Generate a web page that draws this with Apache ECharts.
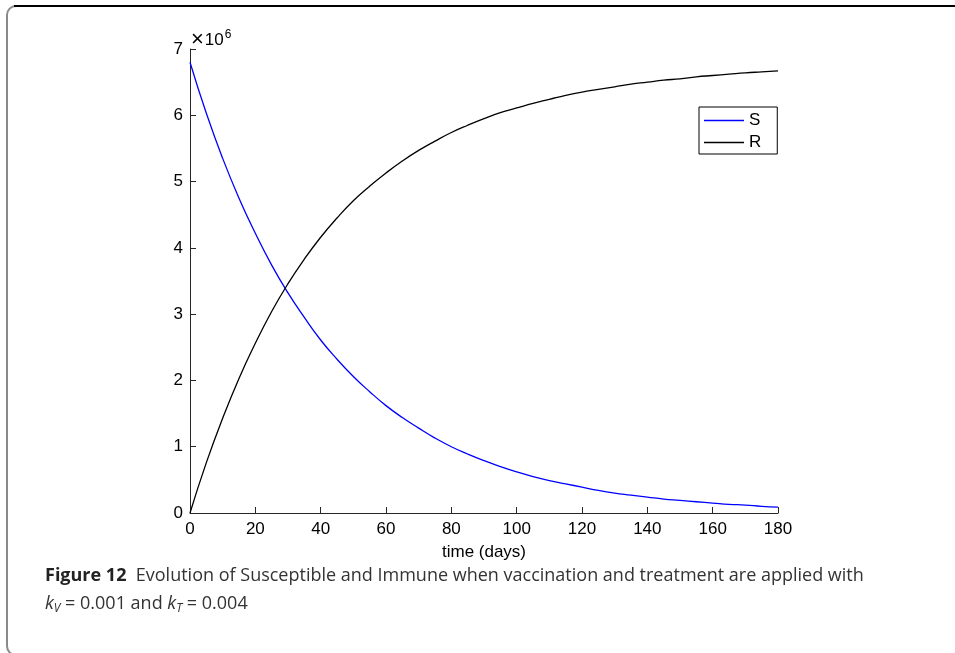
<!DOCTYPE html>
<html><head><meta charset="utf-8">
<script src="https://cdn.jsdelivr.net/npm/echarts@6/dist/echarts.min.js"></script>
<style>html,body{margin:0;padding:0;background:#fff}#c{width:955px;height:653px}</style>
</head><body><div id="c"></div>
<script>
const days = [0,5,10,15,20,25,30,35,40,45,50,55,60,65,70,75,80,85,90,95,100,105,110,115,120,125,130,135,140,145,150,155,160,165,170,175,180];
// values in units of 10^6
const S = [6.80,6.03,5.35,4.75,4.22,3.74,3.32,2.95,2.61,2.32,2.06,1.83,1.62,1.44,1.28,1.13,1.00,0.89,0.79,0.70,0.62,0.55,0.49,0.44,0.39,0.34,0.30,0.27,0.24,0.21,0.19,0.17,0.15,0.13,0.12,0.10,0.09];
const R = [0.00,0.76,1.43,2.03,2.56,3.04,3.46,3.83,4.16,4.45,4.71,4.93,5.13,5.31,5.47,5.61,5.74,5.85,5.95,6.04,6.11,6.18,6.24,6.30,6.35,6.39,6.43,6.47,6.50,6.53,6.55,6.58,6.60,6.62,6.64,6.655,6.67];
const xTicks = [0,20,40,60,80,100,120,140,160,180];
const yTicks = [0,1,2,3,4,5,6,7];
const seriesNames = ['S','R'];

const chart = echarts.init(document.getElementById('c'));
const axisCol = '#262626';
const fontF = '"Liberation Sans", Arial, sans-serif';
const fs = 17;
chart.setOption({
  animation: false,
  grid: {left: 190, right: 177, top: 49, bottom: 140},
  xAxis: {
    type: 'value', min: xTicks[0], max: xTicks[xTicks.length-1], interval: 20,
    name: 'time (days)', nameLocation: 'middle', nameGap: 31,
    nameTextStyle: {color: '#000', fontSize: fs, fontFamily: fontF},
    axisLine: {lineStyle: {color: axisCol, width: 1}},
    axisTick: {inside: true, length: 6, lineStyle: {color: axisCol}},
    axisLabel: {color: '#000', fontSize: fs, fontFamily: fontF, margin: 8},
    splitLine: {show: false}
  },
  yAxis: {
    type: 'value', min: yTicks[0], max: yTicks[yTicks.length-1], interval: 1,
    axisLine: {show: true, lineStyle: {color: axisCol, width: 1}},
    axisTick: {show: true, inside: true, length: 6, lineStyle: {color: axisCol}},
    axisLabel: {color: '#000', fontSize: fs, fontFamily: fontF, margin: 7},
    splitLine: {show: false}
  },
  legend: {
    orient: 'vertical', left: 699, top: 107,
    data: seriesNames.map(n => ({name: n, icon: 'rect'})),
    itemWidth: 40, itemHeight: 1.3, itemGap: 5,
    borderColor: '#000', borderWidth: 1, borderRadius: 0,
    padding: [5, 16, 3, 5],
    textStyle: {color: '#000', fontSize: fs, fontFamily: fontF}
  },
  series: [
    {name: seriesNames[0], type: 'line', data: days.map((d,i)=>[d,S[i]]), smooth: true, symbol: 'none',
     lineStyle: {color: '#0000ff', width: 1.3}, itemStyle: {color: '#0000ff'}},
    {name: seriesNames[1], type: 'line', data: days.map((d,i)=>[d,R[i]]), smooth: true, symbol: 'none',
     lineStyle: {color: '#000000', width: 1.3}, itemStyle: {color: '#000000'}}
  ],
  graphic: [
    {type: 'rect', shape: {x: 7, y: 6, width: 1100, height: 649, r: 9}, style: {fill: 'none', stroke: '#8a8a8a', lineWidth: 2}},
    {type: 'line', shape: {x1: 14, y1: 6, x2: 955, y2: 6}, style: {stroke: '#000', lineWidth: 2}},
    {type: 'text', left: 191, top: 29, style: {
      text: '{x|×}{a|10}{s|6}', rich: {
        x: {fontSize: 22, fontFamily: fontF, fill: '#000', padding: [0,1,0,0]},
        a: {fontSize: fs, fontFamily: fontF, fill: '#000'},
        s: {fontSize: 12, fontFamily: fontF, fill: '#000', padding: [0,0,10,1]}}
    }},
    {type: 'text', left: 45, top: 567, style: {
      text: '{b|Figure 12}{n|  Evolution of Susceptible and Immune when vaccination and treatment are applied with}',
      rich: {b: {fontSize: 18, fontWeight: 'bold', fontFamily: '"Open Sans", sans-serif', fill: '#222'},
             n: {fontSize: 18, fontFamily: '"Open Sans", sans-serif', fill: '#333'}}
    }},
    {type: 'text', left: 45, top: 595, style: {
      text: '{i|k}{s|V}{n| = 0.001 and }{i|k}{s|T}{n| = 0.004}',
      rich: {i: {fontSize: 18, fontStyle: 'italic', fontFamily: '"Open Sans", sans-serif', fill: '#333'},
             s: {fontSize: 12, fontStyle: 'italic', fontFamily: '"Open Sans", sans-serif', fill: '#333', padding: [9,0,0,0]},
             n: {fontSize: 18, fontFamily: '"Open Sans", sans-serif', fill: '#333'}}
    }}
  ]
});
</script></body></html>
